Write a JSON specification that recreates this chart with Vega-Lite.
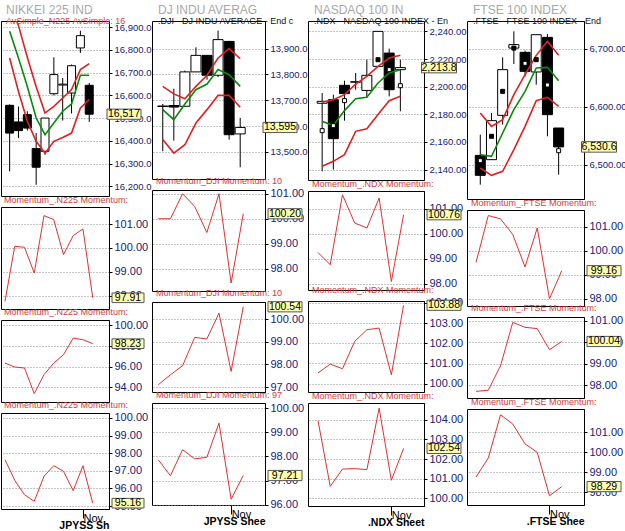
{
"$schema":"https://vega.github.io/schema/vega-lite/v6.json",
"background":"#ffffff",
"padding":{"left":0,"top":3,"right":0,"bottom":0},
"spacing":-15,
"datasets":{
"n225":[
{"i":1,"o":16556,"h":16560,"l":16266,"c":16434,"up":17005,"mid":16881,"lo":16764,"m1":97.76,"m2":96.35,"m3":97.63},
{"i":2,"o":16483,"h":16551,"l":16412,"c":16445,"up":16906,"mid":16764,"lo":16617,"m1":100.07,"m2":95.97,"m3":96.46},
{"i":3,"o":16515,"h":16530,"l":16445,"c":16456,"up":16767,"mid":16639,"lo":16486,"m1":100.03,"m2":95.87,"m3":95.64},
{"i":4,"o":16366,"h":16434,"l":16207,"c":16284,"up":16638,"mid":16500,"lo":16398,"m1":98.95,"m2":93.39,"m3":95.27},
{"i":5,"o":16354,"h":16500,"l":16339,"c":16500,"up":16522,"mid":16427,"lo":16346,"m1":101.36,"m2":95.23,"m3":96.69},
{"i":6,"o":16607,"h":16767,"l":16600,"c":16691,"up":16551,"mid":16478,"lo":16398,"m1":101.19,"m2":96.35,"m3":97.29},
{"i":7,"o":16645,"h":16676,"l":16489,"c":16649,"up":16588,"mid":16530,"lo":16415,"m1":99.72,"m2":97.16,"m3":96.97},
{"i":8,"o":16610,"h":16735,"l":16520,"c":16730,"up":16625,"mid":16562,"lo":16434,"m1":100.52,"m2":98.77,"m3":95.87},
{"i":9,"o":16808,"h":16884,"l":16786,"c":16862,"up":16713,"mid":16688,"lo":16544,"m1":100.80,"m2":98.61,"m3":97.29},
{"i":10,"o":16644,"h":16654,"l":16483,"c":16517,"up":16739,"mid":16688,"lo":16581,"m1":97.91,"m2":98.23,"m3":95.16}
],
"dji":[
{"i":1,"o":13678,"h":13686,"l":13503,"c":13676,"up":13754,"mid":13664,"lo":13548,"m1":100.0,"m2":97.10,"m3":97.86},
{"i":2,"o":13680,"h":13745,"l":13544,"c":13674,"up":13725,"mid":13625,"lo":13496,"m1":100.0,"m2":97.54,"m3":97.20},
{"i":3,"o":13677,"h":13815,"l":13677,"c":13810,"up":13706,"mid":13686,"lo":13528,"m1":101.0,"m2":97.94,"m3":98.28},
{"i":4,"o":13810,"h":13905,"l":13810,"c":13874,"up":13754,"mid":13741,"lo":13612,"m1":100.49,"m2":99.19,"m3":97.90},
{"i":5,"o":13874,"h":13874,"l":13780,"c":13797,"up":13797,"mid":13763,"lo":13664,"m1":99.45,"m2":99.12,"m3":97.96},
{"i":6,"o":13797,"h":13970,"l":13790,"c":13935,"up":13864,"mid":13819,"lo":13719,"m1":101.0,"m2":100.26,"m3":99.38},
{"i":7,"o":13928,"h":13930,"l":13548,"c":13567,"up":13900,"mid":13799,"lo":13719,"m1":97.43,"m2":97.69,"m3":96.23},
{"i":8,"o":13570,"h":13632,"l":13441,"c":13595,"up":13861,"mid":13754,"lo":13673,"m1":100.20,"m2":100.54,"m3":97.21}
],
"ndx":[
{"i":1,"o":2188.0,"h":2195.4,"l":2138.8,"c":2189.4,"mk":2168.2,"up":2188.7,"mid":2174.9,"lo":2142.4,"m1":99.25,"m2":100.53,"m3":103.95},
{"i":2,"o":2190.6,"h":2194.2,"l":2140.0,"c":2162.4,"mk":2171.8,"up":2190.6,"mid":2172.0,"lo":2146.0,"m1":98.76,"m2":100.97,"m3":100.61},
{"i":3,"o":2201.0,"h":2204.3,"l":2175.4,"c":2195.0,"mk":2189.9,"up":2194.2,"mid":2182.7,"lo":2150.8,"m1":101.56,"m2":100.74,"m3":101.49},
{"i":4,"o":2203.2,"h":2209.9,"l":2197.8,"c":2203.6,"mk":null,"up":2201.9,"mid":2191.3,"lo":2167.7,"m1":100.43,"m2":102.09,"m3":101.51},
{"i":5,"o":2197.3,"h":2219.5,"l":2192.3,"c":2208.2,"mk":null,"up":2207.5,"mid":2192.3,"lo":2169.6,"m1":100.23,"m2":102.67,"m3":101.46},
{"i":6,"o":2214.7,"h":2240.0,"l":2214.7,"c":2240.0,"mk":2219.5,"up":2214.7,"mid":2202.7,"lo":2179.8,"m1":101.43,"m2":102.75,"m3":104.59},
{"i":7,"o":2224.3,"h":2227.5,"l":2193.0,"c":2197.8,"mk":2212.3,"up":2220.7,"mid":2209.9,"lo":2189.9,"m1":98.09,"m2":100.44,"m3":100.92},
{"i":8,"o":2212.3,"h":2219.5,"l":2182.2,"c":2213.8,"mk":2200.7,"up":2222.7,"mid":2212.3,"lo":2193.0,"m1":100.76,"m2":103.88,"m3":102.54}
],
"ftse":[
{"i":1,"o":6516.0,"h":6551.7,"l":6465.5,"c":6481.6,"mk":6506.9,"up":6589.0,"mid":6517.2,"lo":6494.3,"m1":99.51,"m2":97.72,"m3":98.77},
{"i":2,"o":6508.6,"h":6589.0,"l":6508.6,"c":6575.9,"mk":6548.9,"up":6566.0,"mid":6514.4,"lo":6481.6,"m1":101.46,"m2":97.77,"m3":99.72},
{"i":3,"o":6585.0,"h":6685.0,"l":6569.0,"c":6663.8,"mk":6626.4,"up":6577.6,"mid":6554.6,"lo":6488.5,"m1":101.32,"m2":98.91,"m3":101.88},
{"i":4,"o":6701.0,"h":6729.9,"l":6673.6,"c":6707.0,"mk":6701.0,"up":6620.7,"mid":6594.8,"lo":6525.9,"m1":100.67,"m2":100.93,"m3":101.42},
{"i":5,"o":6693.7,"h":6696.6,"l":6652.3,"c":6660.9,"mk":6674.7,"up":6655.2,"mid":6626.4,"lo":6566.1,"m1":99.32,"m2":100.70,"m3":100.43},
{"i":6,"o":6659.8,"h":6724.1,"l":6637.9,"c":6724.1,"mk":6681.0,"up":6688.5,"mid":6666.7,"lo":6610.3,"m1":100.94,"m2":100.64,"m3":100.00},
{"i":7,"o":6719.5,"h":6725.3,"l":6548.9,"c":6586.2,"mk":6637.4,"up":6712.6,"mid":6667.8,"lo":6616.1,"m1":97.99,"m2":99.66,"m3":97.83},
{"i":8,"o":6563.2,"h":6563.2,"l":6482.8,"c":6530.6,"mk":6524.1,"up":6688.5,"mid":6644.8,"lo":6600.6,"m1":99.16,"m2":100.04,"m3":98.29}
]
},
"hconcat":[
{"vconcat":[
  {"width":108,"height":175,
   "title":{"text":"NIKKEI 225 IND","subtitle":"AvSimple_N225  AvSimple: 16","color":"#a8a8a8","fontSize":12,"subtitleColor":"#d83a3a","subtitleFontSize":9,"subtitleFont":"Liberation Sans","subtitlePadding":0,"dx":5,"dy":6,"offset":0},
   "data":{"name":"n225"},
   "encoding":{"x":{"field":"i","type":"quantitative","scale":{"domain":[0.59,11.67],"nice":false,"zero":false},"axis":null}},
   "layer":[
    {"data":{"values":[{}]},"mark":{"type":"rule","color":"#8a8a8a","strokeDash":[1,2]},"encoding":{"x":{"datum":9,"type":"quantitative","scale":{"domain":[0.59,11.67],"nice":false,"zero":false},"axis":null}}},
    {"mark":{"type":"rule","color":"#000"},"encoding":{"y":{"field":"l","type":"quantitative","scale":{"domain":[16157.6,16926.4],"nice":false,"zero":false},"axis":{"orient":"right","grid":true,"labelOverlap":false,"values":[16200,16300,16400,16500,16600,16700,16800,16900],"format":",.1f","labelFontSize":9.5},"title":null},"y2":{"field":"h"}}},
    {"mark":{"type":"bar","orient":"vertical","width":8,"stroke":"#000","strokeWidth":1},"encoding":{"y":{"field":"o","type":"quantitative","scale":{"domain":[16157.6,16926.4],"nice":false,"zero":false},"axis":{"orient":"right","grid":true,"labelOverlap":false,"values":[16200,16300,16400,16500,16600,16700,16800,16900],"format":",.1f","labelFontSize":9.5},"title":null},"y2":{"field":"c"},"fill":{"condition":{"test":"datum.c < datum.o","value":"#000"},"value":"#fff"}}},
    {"mark":{"type":"line","color":"#e02020","strokeWidth":1.6,"clip":true},"encoding":{"y":{"field":"up","type":"quantitative","scale":{"domain":[16157.6,16926.4],"nice":false,"zero":false},"axis":{"orient":"right","grid":true,"labelOverlap":false,"values":[16200,16300,16400,16500,16600,16700,16800,16900],"format":",.1f","labelFontSize":9.5},"title":null}}},
    {"mark":{"type":"line","color":"#0a8a0a","strokeWidth":1.6,"clip":true},"encoding":{"y":{"field":"mid","type":"quantitative","scale":{"domain":[16157.6,16926.4],"nice":false,"zero":false},"axis":{"orient":"right","grid":true,"labelOverlap":false,"values":[16200,16300,16400,16500,16600,16700,16800,16900],"format":",.1f","labelFontSize":9.5},"title":null}}},
    {"mark":{"type":"line","color":"#e02020","strokeWidth":1.6,"clip":true},"encoding":{"y":{"field":"lo","type":"quantitative","scale":{"domain":[16157.6,16926.4],"nice":false,"zero":false},"axis":{"orient":"right","grid":true,"labelOverlap":false,"values":[16200,16300,16400,16500,16600,16700,16800,16900],"format":",.1f","labelFontSize":9.5},"title":null}}},
    {"data":{"values":[{"t":"No Orders"}]},"mark":{"type":"point","shape":"M-1,-0.27H1V0.27H-1Z","size":1600,"filled":true,"fill":"#dbe9f7","stroke":"#5a7898","strokeWidth":1,"opacity":1,"xOffset":22,"yOffset":-8},"encoding":{"x":{"datum":0.59,"type":"quantitative","scale":{"domain":[0.59,11.67],"nice":false,"zero":false},"axis":null},"y":{"datum":16157.6,"type":"quantitative","scale":{"domain":[16157.6,16926.4],"nice":false,"zero":false},"axis":{"orient":"right","grid":true,"labelOverlap":false,"values":[16200,16300,16400,16500,16600,16700,16800,16900],"format":",.1f","labelFontSize":9.5},"title":null}}},
    {"data":{"values":[{"t":"No Orders"}]},"mark":{"type":"text","fontSize":10,"color":"#10104a","xOffset":22,"yOffset":-8},"encoding":{"x":{"datum":0.59,"type":"quantitative","scale":{"domain":[0.59,11.67],"nice":false,"zero":false},"axis":null},"y":{"datum":16157.6,"type":"quantitative","scale":{"domain":[16157.6,16926.4],"nice":false,"zero":false},"axis":{"orient":"right","grid":true,"labelOverlap":false,"values":[16200,16300,16400,16500,16600,16700,16800,16900],"format":",.1f","labelFontSize":9.5},"title":null},"text":{"field":"t"}}},
    {"transform":[{"filter":"datum.i == 10"}],"mark":{"type":"point","shape":"M-1,-0.3H1V0.3H-1Z","size":1156,"filled":true,"fill":"#ffffb0","stroke":"#555","strokeWidth":1,"opacity":1,"xOffset":20},"encoding":{"x":{"datum":11.67,"type":"quantitative","scale":{"domain":[0.59,11.67],"nice":false,"zero":false},"axis":null},"y":{"field":"c","type":"quantitative","scale":{"domain":[16157.6,16926.4],"nice":false,"zero":false},"axis":{"orient":"right","grid":true,"labelOverlap":false,"values":[16200,16300,16400,16500,16600,16700,16800,16900],"format":",.1f","labelFontSize":9.5},"title":null}}},
    {"transform":[{"filter":"datum.i == 10"}],"mark":{"type":"text","fontSize":10.5,"color":"#000","xOffset":20},"encoding":{"x":{"datum":11.67,"type":"quantitative","scale":{"domain":[0.59,11.67],"nice":false,"zero":false},"axis":null},"y":{"field":"c","type":"quantitative","scale":{"domain":[16157.6,16926.4],"nice":false,"zero":false},"axis":{"orient":"right","grid":true,"labelOverlap":false,"values":[16200,16300,16400,16500,16600,16700,16800,16900],"format":",.1f","labelFontSize":9.5},"title":null},"text":{"field":"c","type":"quantitative","format":",.0f"}}}
   ]},
  {"width":108,"height":102,
   "title":{"text":"Momentum_.N225  Momentum:","dx":3},
   "data":{"name":"n225"},
   "encoding":{"x":{"field":"i","type":"quantitative","scale":{"domain":[0.59,11.67],"nice":false,"zero":false},"axis":null}},
   "layer":[
    {"data":{"values":[{}]},"mark":{"type":"rule","color":"#8a8a8a","strokeDash":[1,2]},"encoding":{"x":{"datum":9,"type":"quantitative","scale":{"domain":[0.59,11.67],"nice":false,"zero":false},"axis":null}}},
    {"data":{"values":[{}]},"mark":{"type":"rule","color":"#6060e0","strokeWidth":1.3},"encoding":{"x":{"datum":1,"type":"quantitative","scale":{"domain":[0.59,11.67],"nice":false,"zero":false},"axis":null},"x2":{"datum":10},"y":{"datum":100,"type":"quantitative","scale":{"domain":[97.44,101.72],"nice":false,"zero":false},"axis":{"orient":"right","grid":true,"labelOverlap":false,"values":[98,99,100,101],"format":".2f"},"title":null}}},
    {"mark":{"type":"line","color":"#e03030","strokeWidth":1},"encoding":{"y":{"field":"m1","type":"quantitative","scale":{"domain":[97.44,101.72],"nice":false,"zero":false},"axis":{"orient":"right","grid":true,"labelOverlap":false,"values":[98,99,100,101],"format":".2f"},"title":null}}},
    {"transform":[{"filter":"datum.i == 10"}],"mark":{"type":"point","shape":"M-1,-0.3H1V0.3H-1Z","size":1024,"filled":true,"fill":"#ffffb0","stroke":"#555","strokeWidth":1,"opacity":1,"xOffset":19},"encoding":{"x":{"datum":11.67,"type":"quantitative","scale":{"domain":[0.59,11.67],"nice":false,"zero":false},"axis":null},"y":{"field":"m1","type":"quantitative","scale":{"domain":[97.44,101.72],"nice":false,"zero":false},"axis":{"orient":"right","grid":true,"labelOverlap":false,"values":[98,99,100,101],"format":".2f"},"title":null}}},
    {"transform":[{"filter":"datum.i == 10"}],"mark":{"type":"text","fontSize":10.5,"color":"#000","xOffset":19},"encoding":{"x":{"datum":11.67,"type":"quantitative","scale":{"domain":[0.59,11.67],"nice":false,"zero":false},"axis":null},"y":{"field":"m1","type":"quantitative","scale":{"domain":[97.44,101.72],"nice":false,"zero":false},"axis":{"orient":"right","grid":true,"labelOverlap":false,"values":[98,99,100,101],"format":".2f"},"title":null},"text":{"field":"m1","type":"quantitative","format":".2f"}}}
   ]},
  {"width":108,"height":82,
   "title":{"text":"Momentum_.N225  Momentum:","dx":3},
   "data":{"name":"n225"},
   "encoding":{"x":{"field":"i","type":"quantitative","scale":{"domain":[0.59,11.67],"nice":false,"zero":false},"axis":null}},
   "layer":[
    {"data":{"values":[{}]},"mark":{"type":"rule","color":"#8a8a8a","strokeDash":[1,2]},"encoding":{"x":{"datum":9,"type":"quantitative","scale":{"domain":[0.59,11.67],"nice":false,"zero":false},"axis":null}}},
    {"data":{"values":[{}]},"mark":{"type":"rule","color":"#1a1a9a","strokeWidth":1.3},"encoding":{"x":{"datum":1,"type":"quantitative","scale":{"domain":[0.59,11.67],"nice":false,"zero":false},"axis":null},"x2":{"datum":10},"y":{"datum":100,"type":"quantitative","scale":{"domain":[92.58,100.52],"nice":false,"zero":false},"axis":{"orient":"right","grid":true,"labelOverlap":false,"values":[94,96,98,100],"format":".2f"},"title":null}}},
    {"mark":{"type":"line","color":"#e03030","strokeWidth":1},"encoding":{"y":{"field":"m2","type":"quantitative","scale":{"domain":[92.58,100.52],"nice":false,"zero":false},"axis":{"orient":"right","grid":true,"labelOverlap":false,"values":[94,96,98,100],"format":".2f"},"title":null}}},
    {"transform":[{"filter":"datum.i == 10"}],"mark":{"type":"point","shape":"M-1,-0.3H1V0.3H-1Z","size":1024,"filled":true,"fill":"#ffffb0","stroke":"#555","strokeWidth":1,"opacity":1,"xOffset":19},"encoding":{"x":{"datum":11.67,"type":"quantitative","scale":{"domain":[0.59,11.67],"nice":false,"zero":false},"axis":null},"y":{"field":"m2","type":"quantitative","scale":{"domain":[92.58,100.52],"nice":false,"zero":false},"axis":{"orient":"right","grid":true,"labelOverlap":false,"values":[94,96,98,100],"format":".2f"},"title":null}}},
    {"transform":[{"filter":"datum.i == 10"}],"mark":{"type":"text","fontSize":10.5,"color":"#000","xOffset":19},"encoding":{"x":{"datum":11.67,"type":"quantitative","scale":{"domain":[0.59,11.67],"nice":false,"zero":false},"axis":null},"y":{"field":"m2","type":"quantitative","scale":{"domain":[92.58,100.52],"nice":false,"zero":false},"axis":{"orient":"right","grid":true,"labelOverlap":false,"values":[94,96,98,100],"format":".2f"},"title":null},"text":{"field":"m2","type":"quantitative","format":".2f"}}}
   ]},
  {"width":108,"height":96,
   "title":{"text":"Momentum_.N225  Momentum:","dx":3},
   "data":{"name":"n225"},
   "encoding":{"x":{"field":"i","type":"quantitative","scale":{"domain":[0.59,11.67],"nice":false,"zero":false},"axis":{"orient":"bottom","values":[9],"labelExpr":"'Nov'","grid":false,"domain":false,"tickSize":9,"tickColor":"#000","labelAlign":"left","labelBaseline":"top","labelPadding":-6,"labelDx":1,"labelColor":"#000","labelFontSize":11,"title":"JPYSS   Sh","titleAnchor":"end","titleFontSize":10.5,"titleFontWeight":"bold","titleColor":"#000","titlePadding":-3}}},
   "layer":[
    {"data":{"values":[{}]},"mark":{"type":"rule","color":"#8a8a8a","strokeDash":[1,2]},"encoding":{"x":{"datum":9,"type":"quantitative","scale":{"domain":[0.59,11.67],"nice":false,"zero":false},"axis":{"orient":"bottom","values":[9],"labelExpr":"'Nov'","grid":false,"domain":false,"tickSize":9,"tickColor":"#000","labelAlign":"left","labelBaseline":"top","labelPadding":-6,"labelDx":1,"labelColor":"#000","labelFontSize":11,"title":"JPYSS   Sh","titleAnchor":"end","titleFontSize":10.5,"titleFontWeight":"bold","titleColor":"#000","titlePadding":-3}}}},
    {"data":{"values":[{}]},"mark":{"type":"rule","color":"#6060e0","strokeWidth":1.3},"encoding":{"x":{"datum":1,"type":"quantitative","scale":{"domain":[0.59,11.67],"nice":false,"zero":false},"axis":{"orient":"bottom","values":[9],"labelExpr":"'Nov'","grid":false,"domain":false,"tickSize":9,"tickColor":"#000","labelAlign":"left","labelBaseline":"top","labelPadding":-6,"labelDx":1,"labelColor":"#000","labelFontSize":11,"title":"JPYSS   Sh","titleAnchor":"end","titleFontSize":10.5,"titleFontWeight":"bold","titleColor":"#000","titlePadding":-3}},"x2":{"datum":10},"y":{"datum":100,"type":"quantitative","scale":{"domain":[94.83,100.28],"nice":false,"zero":false},"axis":{"orient":"right","grid":true,"labelOverlap":false,"values":[95,96,97,98,99,100],"format":".2f"},"title":null}}},
    {"mark":{"type":"line","color":"#e03030","strokeWidth":1},"encoding":{"y":{"field":"m3","type":"quantitative","scale":{"domain":[94.83,100.28],"nice":false,"zero":false},"axis":{"orient":"right","grid":true,"labelOverlap":false,"values":[95,96,97,98,99,100],"format":".2f"},"title":null}}},
    {"transform":[{"filter":"datum.i == 10"}],"mark":{"type":"point","shape":"M-1,-0.3H1V0.3H-1Z","size":1024,"filled":true,"fill":"#ffffb0","stroke":"#555","strokeWidth":1,"opacity":1,"xOffset":19},"encoding":{"x":{"datum":11.67,"type":"quantitative","scale":{"domain":[0.59,11.67],"nice":false,"zero":false},"axis":{"orient":"bottom","values":[9],"labelExpr":"'Nov'","grid":false,"domain":false,"tickSize":9,"tickColor":"#000","labelAlign":"left","labelBaseline":"top","labelPadding":-6,"labelDx":1,"labelColor":"#000","labelFontSize":11,"title":"JPYSS   Sh","titleAnchor":"end","titleFontSize":10.5,"titleFontWeight":"bold","titleColor":"#000","titlePadding":-3}},"y":{"field":"m3","type":"quantitative","scale":{"domain":[94.83,100.28],"nice":false,"zero":false},"axis":{"orient":"right","grid":true,"labelOverlap":false,"values":[95,96,97,98,99,100],"format":".2f"},"title":null}}},
    {"transform":[{"filter":"datum.i == 10"}],"mark":{"type":"text","fontSize":10.5,"color":"#000","xOffset":19},"encoding":{"x":{"datum":11.67,"type":"quantitative","scale":{"domain":[0.59,11.67],"nice":false,"zero":false},"axis":{"orient":"bottom","values":[9],"labelExpr":"'Nov'","grid":false,"domain":false,"tickSize":9,"tickColor":"#000","labelAlign":"left","labelBaseline":"top","labelPadding":-6,"labelDx":1,"labelColor":"#000","labelFontSize":11,"title":"JPYSS   Sh","titleAnchor":"end","titleFontSize":10.5,"titleFontWeight":"bold","titleColor":"#000","titlePadding":-3}},"y":{"field":"m3","type":"quantitative","scale":{"domain":[94.83,100.28],"nice":false,"zero":false},"axis":{"orient":"right","grid":true,"labelOverlap":false,"values":[95,96,97,98,99,100],"format":".2f"},"title":null},"text":{"field":"m3","type":"quantitative","format":".2f"}}}
   ]}
 ],"bounds":"flush","spacing":11},
{"vconcat":[
  {"width":113,"height":158,
   "title":{"text":"DJ INDU AVERAG","subtitle":".DJI - DJ INDU AVERAGE - End c","color":"#a8a8a8","fontSize":12,"subtitleColor":"#111111","subtitleFontSize":9,"subtitleFont":"Liberation Sans","subtitlePadding":0,"dx":6,"dy":6,"offset":0},
   "data":{"name":"dji"},
   "encoding":{"x":{"field":"i","type":"quantitative","scale":{"domain":[0.48,9.79],"nice":false,"zero":false},"axis":null}},
   "layer":[
    {"data":{"values":[{}]},"mark":{"type":"rule","color":"#8a8a8a","strokeDash":[1,2]},"encoding":{"x":{"datum":7,"type":"quantitative","scale":{"domain":[0.48,9.79],"nice":false,"zero":false},"axis":null}}},
    {"mark":{"type":"rule","color":"#000"},"encoding":{"y":{"field":"l","type":"quantitative","scale":{"domain":[13395.5,14007],"nice":false,"zero":false},"axis":{"orient":"right","grid":true,"labelOverlap":false,"values":[13500,13600,13700,13800,13900],"format":",.1f","labelFontSize":9.5},"title":null},"y2":{"field":"h"}}},
    {"mark":{"type":"bar","orient":"vertical","width":10,"stroke":"#000","strokeWidth":1},"encoding":{"y":{"field":"o","type":"quantitative","scale":{"domain":[13395.5,14007],"nice":false,"zero":false},"axis":{"orient":"right","grid":true,"labelOverlap":false,"values":[13500,13600,13700,13800,13900],"format":",.1f","labelFontSize":9.5},"title":null},"y2":{"field":"c"},"fill":{"condition":{"test":"datum.c < datum.o","value":"#000"},"value":"#fff"}}},
    {"mark":{"type":"line","color":"#e02020","strokeWidth":1.6,"clip":true},"encoding":{"y":{"field":"up","type":"quantitative","scale":{"domain":[13395.5,14007],"nice":false,"zero":false},"axis":{"orient":"right","grid":true,"labelOverlap":false,"values":[13500,13600,13700,13800,13900],"format":",.1f","labelFontSize":9.5},"title":null}}},
    {"mark":{"type":"line","color":"#0a8a0a","strokeWidth":1.6,"clip":true},"encoding":{"y":{"field":"mid","type":"quantitative","scale":{"domain":[13395.5,14007],"nice":false,"zero":false},"axis":{"orient":"right","grid":true,"labelOverlap":false,"values":[13500,13600,13700,13800,13900],"format":",.1f","labelFontSize":9.5},"title":null}}},
    {"mark":{"type":"line","color":"#e02020","strokeWidth":1.6,"clip":true},"encoding":{"y":{"field":"lo","type":"quantitative","scale":{"domain":[13395.5,14007],"nice":false,"zero":false},"axis":{"orient":"right","grid":true,"labelOverlap":false,"values":[13500,13600,13700,13800,13900],"format":",.1f","labelFontSize":9.5},"title":null}}},
    {"data":{"values":[{"t":"No Orders"}]},"mark":{"type":"point","shape":"M-1,-0.27H1V0.27H-1Z","size":1521,"filled":true,"fill":"#dbe9f7","stroke":"#5a7898","strokeWidth":1,"opacity":1,"xOffset":22,"yOffset":-11},"encoding":{"x":{"datum":0.48,"type":"quantitative","scale":{"domain":[0.48,9.79],"nice":false,"zero":false},"axis":null},"y":{"datum":13395.5,"type":"quantitative","scale":{"domain":[13395.5,14007],"nice":false,"zero":false},"axis":{"orient":"right","grid":true,"labelOverlap":false,"values":[13500,13600,13700,13800,13900],"format":",.1f","labelFontSize":9.5},"title":null}}},
    {"data":{"values":[{"t":"No Orders"}]},"mark":{"type":"text","fontSize":10,"color":"#10104a","xOffset":22,"yOffset":-11},"encoding":{"x":{"datum":0.48,"type":"quantitative","scale":{"domain":[0.48,9.79],"nice":false,"zero":false},"axis":null},"y":{"datum":13395.5,"type":"quantitative","scale":{"domain":[13395.5,14007],"nice":false,"zero":false},"axis":{"orient":"right","grid":true,"labelOverlap":false,"values":[13500,13600,13700,13800,13900],"format":",.1f","labelFontSize":9.5},"title":null},"text":{"field":"t"}}},
    {"transform":[{"filter":"datum.i == 8"}],"mark":{"type":"point","shape":"M-1,-0.3H1V0.3H-1Z","size":1156,"filled":true,"fill":"#ffffb0","stroke":"#555","strokeWidth":1,"opacity":1,"xOffset":20},"encoding":{"x":{"datum":9.79,"type":"quantitative","scale":{"domain":[0.48,9.79],"nice":false,"zero":false},"axis":null},"y":{"field":"c","type":"quantitative","scale":{"domain":[13395.5,14007],"nice":false,"zero":false},"axis":{"orient":"right","grid":true,"labelOverlap":false,"values":[13500,13600,13700,13800,13900],"format":",.1f","labelFontSize":9.5},"title":null}}},
    {"transform":[{"filter":"datum.i == 8"}],"mark":{"type":"text","fontSize":10.5,"color":"#000","xOffset":20},"encoding":{"x":{"datum":9.79,"type":"quantitative","scale":{"domain":[0.48,9.79],"nice":false,"zero":false},"axis":null},"y":{"field":"c","type":"quantitative","scale":{"domain":[13395.5,14007],"nice":false,"zero":false},"axis":{"orient":"right","grid":true,"labelOverlap":false,"values":[13500,13600,13700,13800,13900],"format":",.1f","labelFontSize":9.5},"title":null},"text":{"field":"c","type":"quantitative","format":",.0f"}}}
   ]},
  {"width":113,"height":101,
   "title":{"text":"Momentum_DJI  Momentum: 10","dx":4},
   "data":{"name":"dji"},
   "encoding":{"x":{"field":"i","type":"quantitative","scale":{"domain":[0.48,9.79],"nice":false,"zero":false},"axis":null}},
   "layer":[
    {"data":{"values":[{}]},"mark":{"type":"rule","color":"#8a8a8a","strokeDash":[1,2]},"encoding":{"x":{"datum":7,"type":"quantitative","scale":{"domain":[0.48,9.79],"nice":false,"zero":false},"axis":null}}},
    {"data":{"values":[{}]},"mark":{"type":"rule","color":"#1a1a9a","strokeWidth":1.3},"encoding":{"x":{"datum":1,"type":"quantitative","scale":{"domain":[0.48,9.79],"nice":false,"zero":false},"axis":null},"x2":{"datum":8},"y":{"datum":100,"type":"quantitative","scale":{"domain":[97.11,101.15],"nice":false,"zero":false},"axis":{"orient":"right","grid":true,"labelOverlap":false,"values":[98,99,100,101],"format":".2f"},"title":null}}},
    {"mark":{"type":"line","color":"#e03030","strokeWidth":1},"encoding":{"y":{"field":"m1","type":"quantitative","scale":{"domain":[97.11,101.15],"nice":false,"zero":false},"axis":{"orient":"right","grid":true,"labelOverlap":false,"values":[98,99,100,101],"format":".2f"},"title":null}}},
    {"transform":[{"filter":"datum.i == 8"}],"mark":{"type":"point","shape":"M-1,-0.3H1V0.3H-1Z","size":1156,"filled":true,"fill":"#ffffb0","stroke":"#555","strokeWidth":1,"opacity":1,"xOffset":20},"encoding":{"x":{"datum":9.79,"type":"quantitative","scale":{"domain":[0.48,9.79],"nice":false,"zero":false},"axis":null},"y":{"field":"m1","type":"quantitative","scale":{"domain":[97.11,101.15],"nice":false,"zero":false},"axis":{"orient":"right","grid":true,"labelOverlap":false,"values":[98,99,100,101],"format":".2f"},"title":null}}},
    {"transform":[{"filter":"datum.i == 8"}],"mark":{"type":"text","fontSize":10.5,"color":"#000","xOffset":20},"encoding":{"x":{"datum":9.79,"type":"quantitative","scale":{"domain":[0.48,9.79],"nice":false,"zero":false},"axis":null},"y":{"field":"m1","type":"quantitative","scale":{"domain":[97.11,101.15],"nice":false,"zero":false},"axis":{"orient":"right","grid":true,"labelOverlap":false,"values":[98,99,100,101],"format":".2f"},"title":null},"text":{"field":"m1","type":"quantitative","format":".2f"}}}
   ]},
  {"width":113,"height":90,
   "title":{"text":"Momentum_DJI  Momentum: 10","dx":4},
   "data":{"name":"dji"},
   "encoding":{"x":{"field":"i","type":"quantitative","scale":{"domain":[0.48,9.79],"nice":false,"zero":false},"axis":null}},
   "layer":[
    {"data":{"values":[{}]},"mark":{"type":"rule","color":"#8a8a8a","strokeDash":[1,2]},"encoding":{"x":{"datum":7,"type":"quantitative","scale":{"domain":[0.48,9.79],"nice":false,"zero":false},"axis":null}}},
    {"data":{"values":[{}]},"mark":{"type":"rule","color":"#6a6af0","strokeWidth":1.3},"encoding":{"x":{"datum":1,"type":"quantitative","scale":{"domain":[0.48,9.79],"nice":false,"zero":false},"axis":null},"x2":{"datum":8},"y":{"datum":100,"type":"quantitative","scale":{"domain":[96.78,100.75],"nice":false,"zero":false},"axis":{"orient":"right","grid":true,"labelOverlap":false,"values":[97,98,99,100],"format":".2f"},"title":null}}},
    {"mark":{"type":"line","color":"#e03030","strokeWidth":1},"encoding":{"y":{"field":"m2","type":"quantitative","scale":{"domain":[96.78,100.75],"nice":false,"zero":false},"axis":{"orient":"right","grid":true,"labelOverlap":false,"values":[97,98,99,100],"format":".2f"},"title":null}}},
    {"transform":[{"filter":"datum.i == 8"}],"mark":{"type":"point","shape":"M-1,-0.3H1V0.3H-1Z","size":1156,"filled":true,"fill":"#ffffb0","stroke":"#555","strokeWidth":1,"opacity":1,"xOffset":20},"encoding":{"x":{"datum":9.79,"type":"quantitative","scale":{"domain":[0.48,9.79],"nice":false,"zero":false},"axis":null},"y":{"field":"m2","type":"quantitative","scale":{"domain":[96.78,100.75],"nice":false,"zero":false},"axis":{"orient":"right","grid":true,"labelOverlap":false,"values":[97,98,99,100],"format":".2f"},"title":null}}},
    {"transform":[{"filter":"datum.i == 8"}],"mark":{"type":"text","fontSize":10.5,"color":"#000","xOffset":20},"encoding":{"x":{"datum":9.79,"type":"quantitative","scale":{"domain":[0.48,9.79],"nice":false,"zero":false},"axis":null},"y":{"field":"m2","type":"quantitative","scale":{"domain":[96.78,100.75],"nice":false,"zero":false},"axis":{"orient":"right","grid":true,"labelOverlap":false,"values":[97,98,99,100],"format":".2f"},"title":null},"text":{"field":"m2","type":"quantitative","format":".2f"}}}
   ]},
  {"width":113,"height":102,
   "title":{"text":"Momentum_DJI  Momentum: 97","dx":4},
   "data":{"name":"dji"},
   "encoding":{"x":{"field":"i","type":"quantitative","scale":{"domain":[0.48,9.79],"nice":false,"zero":false},"axis":{"orient":"bottom","values":[7],"labelExpr":"'Nov'","grid":false,"domain":false,"tickSize":9,"tickColor":"#000","labelAlign":"left","labelBaseline":"top","labelPadding":-6,"labelDx":1,"labelColor":"#000","labelFontSize":11,"title":"JPYSS   Shee","titleAnchor":"end","titleFontSize":10.5,"titleFontWeight":"bold","titleColor":"#000","titlePadding":-3}}},
   "layer":[
    {"data":{"values":[{}]},"mark":{"type":"rule","color":"#8a8a8a","strokeDash":[1,2]},"encoding":{"x":{"datum":7,"type":"quantitative","scale":{"domain":[0.48,9.79],"nice":false,"zero":false},"axis":{"orient":"bottom","values":[7],"labelExpr":"'Nov'","grid":false,"domain":false,"tickSize":9,"tickColor":"#000","labelAlign":"left","labelBaseline":"top","labelPadding":-6,"labelDx":1,"labelColor":"#000","labelFontSize":11,"title":"JPYSS   Shee","titleAnchor":"end","titleFontSize":10.5,"titleFontWeight":"bold","titleColor":"#000","titlePadding":-3}}}},
    {"data":{"values":[{}]},"mark":{"type":"rule","color":"#6a6af0","strokeWidth":1.3},"encoding":{"x":{"datum":1,"type":"quantitative","scale":{"domain":[0.48,9.79],"nice":false,"zero":false},"axis":{"orient":"bottom","values":[7],"labelExpr":"'Nov'","grid":false,"domain":false,"tickSize":9,"tickColor":"#000","labelAlign":"left","labelBaseline":"top","labelPadding":-6,"labelDx":1,"labelColor":"#000","labelFontSize":11,"title":"JPYSS   Shee","titleAnchor":"end","titleFontSize":10.5,"titleFontWeight":"bold","titleColor":"#000","titlePadding":-3}},"x2":{"datum":8},"y":{"datum":100,"type":"quantitative","scale":{"domain":[95.99,100.21],"nice":false,"zero":false},"axis":{"orient":"right","grid":true,"labelOverlap":false,"values":[96,97,98,99,100],"format":".2f"},"title":null}}},
    {"mark":{"type":"line","color":"#e03030","strokeWidth":1},"encoding":{"y":{"field":"m3","type":"quantitative","scale":{"domain":[95.99,100.21],"nice":false,"zero":false},"axis":{"orient":"right","grid":true,"labelOverlap":false,"values":[96,97,98,99,100],"format":".2f"},"title":null}}},
    {"transform":[{"filter":"datum.i == 8"}],"mark":{"type":"point","shape":"M-1,-0.3H1V0.3H-1Z","size":1156,"filled":true,"fill":"#ffffb0","stroke":"#555","strokeWidth":1,"opacity":1,"xOffset":20},"encoding":{"x":{"datum":9.79,"type":"quantitative","scale":{"domain":[0.48,9.79],"nice":false,"zero":false},"axis":{"orient":"bottom","values":[7],"labelExpr":"'Nov'","grid":false,"domain":false,"tickSize":9,"tickColor":"#000","labelAlign":"left","labelBaseline":"top","labelPadding":-6,"labelDx":1,"labelColor":"#000","labelFontSize":11,"title":"JPYSS   Shee","titleAnchor":"end","titleFontSize":10.5,"titleFontWeight":"bold","titleColor":"#000","titlePadding":-3}},"y":{"field":"m3","type":"quantitative","scale":{"domain":[95.99,100.21],"nice":false,"zero":false},"axis":{"orient":"right","grid":true,"labelOverlap":false,"values":[96,97,98,99,100],"format":".2f"},"title":null}}},
    {"transform":[{"filter":"datum.i == 8"}],"mark":{"type":"text","fontSize":10.5,"color":"#000","xOffset":20},"encoding":{"x":{"datum":9.79,"type":"quantitative","scale":{"domain":[0.48,9.79],"nice":false,"zero":false},"axis":{"orient":"bottom","values":[7],"labelExpr":"'Nov'","grid":false,"domain":false,"tickSize":9,"tickColor":"#000","labelAlign":"left","labelBaseline":"top","labelPadding":-6,"labelDx":1,"labelColor":"#000","labelFontSize":11,"title":"JPYSS   Shee","titleAnchor":"end","titleFontSize":10.5,"titleFontWeight":"bold","titleColor":"#000","titlePadding":-3}},"y":{"field":"m3","type":"quantitative","scale":{"domain":[95.99,100.21],"nice":false,"zero":false},"axis":{"orient":"right","grid":true,"labelOverlap":false,"values":[96,97,98,99,100],"format":".2f"},"title":null},"text":{"field":"m3","type":"quantitative","format":".2f"}}}
   ]}
 ],"bounds":"flush","spacing":11},
{"vconcat":[
  {"width":116,"height":159,
   "title":{"text":"NASDAQ 100 IN","subtitle":".NDX - NASDAQ 100 INDEX - En","color":"#a8a8a8","fontSize":12,"subtitleColor":"#111111","subtitleFontSize":9,"subtitleFont":"Liberation Sans","subtitlePadding":0,"dx":6,"dy":6,"offset":0},
   "data":{"name":"ndx"},
   "encoding":{"x":{"field":"i","type":"quantitative","scale":{"domain":[0.18,9.67],"nice":false,"zero":false},"axis":null}},
   "layer":[
    {"data":{"values":[{}]},"mark":{"type":"rule","color":"#8a8a8a","strokeDash":[1,2]},"encoding":{"x":{"datum":7,"type":"quantitative","scale":{"domain":[0.18,9.67],"nice":false,"zero":false},"axis":null}}},
    {"mark":{"type":"rule","color":"#000"},"encoding":{"y":{"field":"l","type":"quantitative","scale":{"domain":[2132.5,2247.5],"nice":false,"zero":false},"axis":{"orient":"right","grid":true,"labelOverlap":false,"values":[2140,2160,2180,2200,2220,2240],"format":",.2f","labelFontSize":9.5},"title":null},"y2":{"field":"h"}}},
    {"mark":{"type":"bar","orient":"vertical","width":10,"stroke":"#000","strokeWidth":1},"encoding":{"y":{"field":"o","type":"quantitative","scale":{"domain":[2132.5,2247.5],"nice":false,"zero":false},"axis":{"orient":"right","grid":true,"labelOverlap":false,"values":[2140,2160,2180,2200,2220,2240],"format":",.2f","labelFontSize":9.5},"title":null},"y2":{"field":"c"},"fill":{"condition":{"test":"datum.c < datum.o","value":"#000"},"value":"#fff"}}},
    {"mark":{"type":"line","color":"#e02020","strokeWidth":1.6,"clip":true},"encoding":{"y":{"field":"up","type":"quantitative","scale":{"domain":[2132.5,2247.5],"nice":false,"zero":false},"axis":{"orient":"right","grid":true,"labelOverlap":false,"values":[2140,2160,2180,2200,2220,2240],"format":",.2f","labelFontSize":9.5},"title":null}}},
    {"mark":{"type":"line","color":"#0a8a0a","strokeWidth":1.6,"clip":true},"encoding":{"y":{"field":"mid","type":"quantitative","scale":{"domain":[2132.5,2247.5],"nice":false,"zero":false},"axis":{"orient":"right","grid":true,"labelOverlap":false,"values":[2140,2160,2180,2200,2220,2240],"format":",.2f","labelFontSize":9.5},"title":null}}},
    {"mark":{"type":"line","color":"#e02020","strokeWidth":1.6,"clip":true},"encoding":{"y":{"field":"lo","type":"quantitative","scale":{"domain":[2132.5,2247.5],"nice":false,"zero":false},"axis":{"orient":"right","grid":true,"labelOverlap":false,"values":[2140,2160,2180,2200,2220,2240],"format":",.2f","labelFontSize":9.5},"title":null}}},
    {"mark":{"type":"point","shape":"square","size":16,"filled":true,"stroke":"#000","strokeWidth":1,"opacity":1},"encoding":{"y":{"field":"mk","type":"quantitative","scale":{"domain":[2132.5,2247.5],"nice":false,"zero":false},"axis":{"orient":"right","grid":true,"labelOverlap":false,"values":[2140,2160,2180,2200,2220,2240],"format":",.2f","labelFontSize":9.5},"title":null},"fill":{"condition":{"test":"datum.c < datum.o || datum.mk < min(datum.o, datum.c) || datum.mk > max(datum.o, datum.c)","value":"#fff"},"value":"#000"}}},
    {"data":{"values":[{"t":"No Orders"}]},"mark":{"type":"point","shape":"M-1,-0.27H1V0.27H-1Z","size":1444,"filled":true,"fill":"#dbe9f7","stroke":"#5a7898","strokeWidth":1,"opacity":1,"xOffset":27,"yOffset":-11},"encoding":{"x":{"datum":0.18,"type":"quantitative","scale":{"domain":[0.18,9.67],"nice":false,"zero":false},"axis":null},"y":{"datum":2132.5,"type":"quantitative","scale":{"domain":[2132.5,2247.5],"nice":false,"zero":false},"axis":{"orient":"right","grid":true,"labelOverlap":false,"values":[2140,2160,2180,2200,2220,2240],"format":",.2f","labelFontSize":9.5},"title":null}}},
    {"data":{"values":[{"t":"No Orders"}]},"mark":{"type":"text","fontSize":10,"color":"#10104a","xOffset":27,"yOffset":-11},"encoding":{"x":{"datum":0.18,"type":"quantitative","scale":{"domain":[0.18,9.67],"nice":false,"zero":false},"axis":null},"y":{"datum":2132.5,"type":"quantitative","scale":{"domain":[2132.5,2247.5],"nice":false,"zero":false},"axis":{"orient":"right","grid":true,"labelOverlap":false,"values":[2140,2160,2180,2200,2220,2240],"format":",.2f","labelFontSize":9.5},"title":null},"text":{"field":"t"}}},
    {"transform":[{"filter":"datum.i == 8"}],"mark":{"type":"point","shape":"M-1,-0.3H1V0.3H-1Z","size":1225,"filled":true,"fill":"#ffffb0","stroke":"#555","strokeWidth":1,"opacity":1,"xOffset":20},"encoding":{"x":{"datum":9.67,"type":"quantitative","scale":{"domain":[0.18,9.67],"nice":false,"zero":false},"axis":null},"y":{"field":"c","type":"quantitative","scale":{"domain":[2132.5,2247.5],"nice":false,"zero":false},"axis":{"orient":"right","grid":true,"labelOverlap":false,"values":[2140,2160,2180,2200,2220,2240],"format":",.2f","labelFontSize":9.5},"title":null}}},
    {"transform":[{"filter":"datum.i == 8"}],"mark":{"type":"text","fontSize":10.5,"color":"#000","xOffset":20},"encoding":{"x":{"datum":9.67,"type":"quantitative","scale":{"domain":[0.18,9.67],"nice":false,"zero":false},"axis":null},"y":{"field":"c","type":"quantitative","scale":{"domain":[2132.5,2247.5],"nice":false,"zero":false},"axis":{"orient":"right","grid":true,"labelOverlap":false,"values":[2140,2160,2180,2200,2220,2240],"format":",.2f","labelFontSize":9.5},"title":null},"text":{"field":"c","type":"quantitative","format":",.1f"}}}
   ]},
  {"width":116,"height":99,
   "title":{"text":"Momentum_.NDX  Momentum:","dx":4},
   "data":{"name":"ndx"},
   "encoding":{"x":{"field":"i","type":"quantitative","scale":{"domain":[0.18,9.67],"nice":false,"zero":false},"axis":null}},
   "layer":[
    {"data":{"values":[{}]},"mark":{"type":"rule","color":"#8a8a8a","strokeDash":[1,2]},"encoding":{"x":{"datum":7,"type":"quantitative","scale":{"domain":[0.18,9.67],"nice":false,"zero":false},"axis":null}}},
    {"data":{"values":[{}]},"mark":{"type":"rule","color":"#1a1aa0","strokeWidth":1.3},"encoding":{"x":{"datum":1,"type":"quantitative","scale":{"domain":[0.18,9.67],"nice":false,"zero":false},"axis":null},"x2":{"datum":8},"y":{"datum":100,"type":"quantitative","scale":{"domain":[97.75,101.71],"nice":false,"zero":false},"axis":{"orient":"right","grid":true,"labelOverlap":false,"values":[98,99,100,101],"format":".2f"},"title":null}}},
    {"mark":{"type":"line","color":"#e03030","strokeWidth":1},"encoding":{"y":{"field":"m1","type":"quantitative","scale":{"domain":[97.75,101.71],"nice":false,"zero":false},"axis":{"orient":"right","grid":true,"labelOverlap":false,"values":[98,99,100,101],"format":".2f"},"title":null}}},
    {"transform":[{"filter":"datum.i == 8"}],"mark":{"type":"point","shape":"M-1,-0.3H1V0.3H-1Z","size":1156,"filled":true,"fill":"#ffffb0","stroke":"#555","strokeWidth":1,"opacity":1,"xOffset":20},"encoding":{"x":{"datum":9.67,"type":"quantitative","scale":{"domain":[0.18,9.67],"nice":false,"zero":false},"axis":null},"y":{"field":"m1","type":"quantitative","scale":{"domain":[97.75,101.71],"nice":false,"zero":false},"axis":{"orient":"right","grid":true,"labelOverlap":false,"values":[98,99,100,101],"format":".2f"},"title":null}}},
    {"transform":[{"filter":"datum.i == 8"}],"mark":{"type":"text","fontSize":10.5,"color":"#000","xOffset":20},"encoding":{"x":{"datum":9.67,"type":"quantitative","scale":{"domain":[0.18,9.67],"nice":false,"zero":false},"axis":null},"y":{"field":"m1","type":"quantitative","scale":{"domain":[97.75,101.71],"nice":false,"zero":false},"axis":{"orient":"right","grid":true,"labelOverlap":false,"values":[98,99,100,101],"format":".2f"},"title":null},"text":{"field":"m1","type":"quantitative","format":".2f"}}}
   ]},
  {"width":116,"height":91,
   "title":{"text":"Momentum_.NDX  Momentum:","dx":4},
   "data":{"name":"ndx"},
   "encoding":{"x":{"field":"i","type":"quantitative","scale":{"domain":[0.18,9.67],"nice":false,"zero":false},"axis":null}},
   "layer":[
    {"data":{"values":[{}]},"mark":{"type":"rule","color":"#8a8a8a","strokeDash":[1,2]},"encoding":{"x":{"datum":7,"type":"quantitative","scale":{"domain":[0.18,9.67],"nice":false,"zero":false},"axis":null}}},
    {"data":{"values":[{}]},"mark":{"type":"rule","color":"#1a1aa0","strokeWidth":1.3},"encoding":{"x":{"datum":1,"type":"quantitative","scale":{"domain":[0.18,9.67],"nice":false,"zero":false},"axis":null},"x2":{"datum":8},"y":{"datum":100,"type":"quantitative","scale":{"domain":[99.59,104.09],"nice":false,"zero":false},"axis":{"orient":"right","grid":true,"labelOverlap":false,"values":[100,101,102,103,104],"format":".2f"},"title":null}}},
    {"mark":{"type":"line","color":"#e03030","strokeWidth":1},"encoding":{"y":{"field":"m2","type":"quantitative","scale":{"domain":[99.59,104.09],"nice":false,"zero":false},"axis":{"orient":"right","grid":true,"labelOverlap":false,"values":[100,101,102,103,104],"format":".2f"},"title":null}}},
    {"transform":[{"filter":"datum.i == 8"}],"mark":{"type":"point","shape":"M-1,-0.3H1V0.3H-1Z","size":1156,"filled":true,"fill":"#ffffb0","stroke":"#555","strokeWidth":1,"opacity":1,"xOffset":20},"encoding":{"x":{"datum":9.67,"type":"quantitative","scale":{"domain":[0.18,9.67],"nice":false,"zero":false},"axis":null},"y":{"field":"m2","type":"quantitative","scale":{"domain":[99.59,104.09],"nice":false,"zero":false},"axis":{"orient":"right","grid":true,"labelOverlap":false,"values":[100,101,102,103,104],"format":".2f"},"title":null}}},
    {"transform":[{"filter":"datum.i == 8"}],"mark":{"type":"text","fontSize":10.5,"color":"#000","xOffset":20},"encoding":{"x":{"datum":9.67,"type":"quantitative","scale":{"domain":[0.18,9.67],"nice":false,"zero":false},"axis":null},"y":{"field":"m2","type":"quantitative","scale":{"domain":[99.59,104.09],"nice":false,"zero":false},"axis":{"orient":"right","grid":true,"labelOverlap":false,"values":[100,101,102,103,104],"format":".2f"},"title":null},"text":{"field":"m2","type":"quantitative","format":".2f"}}}
   ]},
  {"width":116,"height":103,
   "title":{"text":"Momentum_.NDX  Momentum:","dx":4},
   "data":{"name":"ndx"},
   "encoding":{"x":{"field":"i","type":"quantitative","scale":{"domain":[0.18,9.67],"nice":false,"zero":false},"axis":{"orient":"bottom","values":[7],"labelExpr":"'Nov'","grid":false,"domain":false,"tickSize":9,"tickColor":"#000","labelAlign":"left","labelBaseline":"top","labelPadding":-6,"labelDx":1,"labelColor":"#000","labelFontSize":11,"title":".NDX   Sheet","titleAnchor":"end","titleFontSize":10.5,"titleFontWeight":"bold","titleColor":"#000","titlePadding":-3}}},
   "layer":[
    {"data":{"values":[{}]},"mark":{"type":"rule","color":"#8a8a8a","strokeDash":[1,2]},"encoding":{"x":{"datum":7,"type":"quantitative","scale":{"domain":[0.18,9.67],"nice":false,"zero":false},"axis":{"orient":"bottom","values":[7],"labelExpr":"'Nov'","grid":false,"domain":false,"tickSize":9,"tickColor":"#000","labelAlign":"left","labelBaseline":"top","labelPadding":-6,"labelDx":1,"labelColor":"#000","labelFontSize":11,"title":".NDX   Sheet","titleAnchor":"end","titleFontSize":10.5,"titleFontWeight":"bold","titleColor":"#000","titlePadding":-3}}}},
    {"data":{"values":[{}]},"mark":{"type":"rule","color":"#1a1aa0","strokeWidth":1.3},"encoding":{"x":{"datum":1,"type":"quantitative","scale":{"domain":[0.18,9.67],"nice":false,"zero":false},"axis":{"orient":"bottom","values":[7],"labelExpr":"'Nov'","grid":false,"domain":false,"tickSize":9,"tickColor":"#000","labelAlign":"left","labelBaseline":"top","labelPadding":-6,"labelDx":1,"labelColor":"#000","labelFontSize":11,"title":".NDX   Sheet","titleAnchor":"end","titleFontSize":10.5,"titleFontWeight":"bold","titleColor":"#000","titlePadding":-3}},"x2":{"datum":8},"y":{"datum":100,"type":"quantitative","scale":{"domain":[99.61,104.85],"nice":false,"zero":false},"axis":{"orient":"right","grid":true,"labelOverlap":false,"values":[100,101,102,103,104],"format":".2f"},"title":null}}},
    {"mark":{"type":"line","color":"#e03030","strokeWidth":1},"encoding":{"y":{"field":"m3","type":"quantitative","scale":{"domain":[99.61,104.85],"nice":false,"zero":false},"axis":{"orient":"right","grid":true,"labelOverlap":false,"values":[100,101,102,103,104],"format":".2f"},"title":null}}},
    {"transform":[{"filter":"datum.i == 8"}],"mark":{"type":"point","shape":"M-1,-0.3H1V0.3H-1Z","size":1156,"filled":true,"fill":"#ffffb0","stroke":"#555","strokeWidth":1,"opacity":1,"xOffset":20},"encoding":{"x":{"datum":9.67,"type":"quantitative","scale":{"domain":[0.18,9.67],"nice":false,"zero":false},"axis":{"orient":"bottom","values":[7],"labelExpr":"'Nov'","grid":false,"domain":false,"tickSize":9,"tickColor":"#000","labelAlign":"left","labelBaseline":"top","labelPadding":-6,"labelDx":1,"labelColor":"#000","labelFontSize":11,"title":".NDX   Sheet","titleAnchor":"end","titleFontSize":10.5,"titleFontWeight":"bold","titleColor":"#000","titlePadding":-3}},"y":{"field":"m3","type":"quantitative","scale":{"domain":[99.61,104.85],"nice":false,"zero":false},"axis":{"orient":"right","grid":true,"labelOverlap":false,"values":[100,101,102,103,104],"format":".2f"},"title":null}}},
    {"transform":[{"filter":"datum.i == 8"}],"mark":{"type":"text","fontSize":10.5,"color":"#000","xOffset":20},"encoding":{"x":{"datum":9.67,"type":"quantitative","scale":{"domain":[0.18,9.67],"nice":false,"zero":false},"axis":{"orient":"bottom","values":[7],"labelExpr":"'Nov'","grid":false,"domain":false,"tickSize":9,"tickColor":"#000","labelAlign":"left","labelBaseline":"top","labelPadding":-6,"labelDx":1,"labelColor":"#000","labelFontSize":11,"title":".NDX   Sheet","titleAnchor":"end","titleFontSize":10.5,"titleFontWeight":"bold","titleColor":"#000","titlePadding":-3}},"y":{"field":"m3","type":"quantitative","scale":{"domain":[99.61,104.85],"nice":false,"zero":false},"axis":{"orient":"right","grid":true,"labelOverlap":false,"values":[100,101,102,103,104],"format":".2f"},"title":null},"text":{"field":"m3","type":"quantitative","format":".2f"}}}
   ]}
 ],"bounds":"flush","spacing":11},
{"vconcat":[
  {"width":117,"height":178,
   "title":{"text":"FTSE 100 INDEX","subtitle":".FTSE - FTSE 100 INDEX - End","color":"#a8a8a8","fontSize":12,"subtitleColor":"#111111","subtitleFontSize":9,"subtitleFont":"Liberation Sans","subtitlePadding":0,"dx":6,"dy":6,"offset":0},
   "data":{"name":"ftse"},
   "encoding":{"x":{"field":"i","type":"quantitative","scale":{"domain":[0.26,9.82],"nice":false,"zero":false},"axis":null}},
   "layer":[
    {"data":{"values":[{}]},"mark":{"type":"rule","color":"#8a8a8a","strokeDash":[1,2]},"encoding":{"x":{"datum":7,"type":"quantitative","scale":{"domain":[0.26,9.82],"nice":false,"zero":false},"axis":null}}},
    {"mark":{"type":"rule","color":"#000"},"encoding":{"y":{"field":"l","type":"quantitative","scale":{"domain":[6440.8,6747.7],"nice":false,"zero":false},"axis":{"orient":"right","grid":true,"labelOverlap":false,"values":[6500,6600,6700],"format":",.2f","labelFontSize":9.5},"title":null},"y2":{"field":"h"}}},
    {"mark":{"type":"bar","orient":"vertical","width":10,"stroke":"#000","strokeWidth":1},"encoding":{"y":{"field":"o","type":"quantitative","scale":{"domain":[6440.8,6747.7],"nice":false,"zero":false},"axis":{"orient":"right","grid":true,"labelOverlap":false,"values":[6500,6600,6700],"format":",.2f","labelFontSize":9.5},"title":null},"y2":{"field":"c"},"fill":{"condition":{"test":"datum.c < datum.o","value":"#000"},"value":"#fff"}}},
    {"mark":{"type":"line","color":"#e02020","strokeWidth":1.6,"clip":true},"encoding":{"y":{"field":"up","type":"quantitative","scale":{"domain":[6440.8,6747.7],"nice":false,"zero":false},"axis":{"orient":"right","grid":true,"labelOverlap":false,"values":[6500,6600,6700],"format":",.2f","labelFontSize":9.5},"title":null}}},
    {"mark":{"type":"line","color":"#0a8a0a","strokeWidth":1.6,"clip":true},"encoding":{"y":{"field":"mid","type":"quantitative","scale":{"domain":[6440.8,6747.7],"nice":false,"zero":false},"axis":{"orient":"right","grid":true,"labelOverlap":false,"values":[6500,6600,6700],"format":",.2f","labelFontSize":9.5},"title":null}}},
    {"mark":{"type":"line","color":"#e02020","strokeWidth":1.6,"clip":true},"encoding":{"y":{"field":"lo","type":"quantitative","scale":{"domain":[6440.8,6747.7],"nice":false,"zero":false},"axis":{"orient":"right","grid":true,"labelOverlap":false,"values":[6500,6600,6700],"format":",.2f","labelFontSize":9.5},"title":null}}},
    {"mark":{"type":"point","shape":"square","size":16,"filled":true,"stroke":"#000","strokeWidth":1,"opacity":1},"encoding":{"y":{"field":"mk","type":"quantitative","scale":{"domain":[6440.8,6747.7],"nice":false,"zero":false},"axis":{"orient":"right","grid":true,"labelOverlap":false,"values":[6500,6600,6700],"format":",.2f","labelFontSize":9.5},"title":null},"fill":{"condition":{"test":"datum.c < datum.o || datum.mk < min(datum.o, datum.c) || datum.mk > max(datum.o, datum.c)","value":"#fff"},"value":"#000"}}},
    {"data":{"values":[{"t":"No Orders"}]},"mark":{"type":"point","shape":"M-1,-0.27H1V0.27H-1Z","size":1444,"filled":true,"fill":"#dbe9f7","stroke":"#5a7898","strokeWidth":1,"opacity":1,"xOffset":26,"yOffset":-10},"encoding":{"x":{"datum":0.26,"type":"quantitative","scale":{"domain":[0.26,9.82],"nice":false,"zero":false},"axis":null},"y":{"datum":6440.8,"type":"quantitative","scale":{"domain":[6440.8,6747.7],"nice":false,"zero":false},"axis":{"orient":"right","grid":true,"labelOverlap":false,"values":[6500,6600,6700],"format":",.2f","labelFontSize":9.5},"title":null}}},
    {"data":{"values":[{"t":"No Orders"}]},"mark":{"type":"text","fontSize":10,"color":"#10104a","xOffset":26,"yOffset":-10},"encoding":{"x":{"datum":0.26,"type":"quantitative","scale":{"domain":[0.26,9.82],"nice":false,"zero":false},"axis":null},"y":{"datum":6440.8,"type":"quantitative","scale":{"domain":[6440.8,6747.7],"nice":false,"zero":false},"axis":{"orient":"right","grid":true,"labelOverlap":false,"values":[6500,6600,6700],"format":",.2f","labelFontSize":9.5},"title":null},"text":{"field":"t"}}},
    {"transform":[{"filter":"datum.i == 8"}],"mark":{"type":"point","shape":"M-1,-0.3H1V0.3H-1Z","size":1225,"filled":true,"fill":"#ffffb0","stroke":"#555","strokeWidth":1,"opacity":1,"xOffset":20},"encoding":{"x":{"datum":9.82,"type":"quantitative","scale":{"domain":[0.26,9.82],"nice":false,"zero":false},"axis":null},"y":{"field":"c","type":"quantitative","scale":{"domain":[6440.8,6747.7],"nice":false,"zero":false},"axis":{"orient":"right","grid":true,"labelOverlap":false,"values":[6500,6600,6700],"format":",.2f","labelFontSize":9.5},"title":null}}},
    {"transform":[{"filter":"datum.i == 8"}],"mark":{"type":"text","fontSize":10.5,"color":"#000","xOffset":20},"encoding":{"x":{"datum":9.82,"type":"quantitative","scale":{"domain":[0.26,9.82],"nice":false,"zero":false},"axis":null},"y":{"field":"c","type":"quantitative","scale":{"domain":[6440.8,6747.7],"nice":false,"zero":false},"axis":{"orient":"right","grid":true,"labelOverlap":false,"values":[6500,6600,6700],"format":",.2f","labelFontSize":9.5},"title":null},"text":{"field":"c","type":"quantitative","format":",.1f"}}}
   ]},
  {"width":117,"height":96,
   "title":{"text":"Momentum_.FTSE  Momentum:","dx":4},
   "data":{"name":"ftse"},
   "encoding":{"x":{"field":"i","type":"quantitative","scale":{"domain":[0.26,9.82],"nice":false,"zero":false},"axis":null}},
   "layer":[
    {"data":{"values":[{}]},"mark":{"type":"rule","color":"#8a8a8a","strokeDash":[1,2]},"encoding":{"x":{"datum":7,"type":"quantitative","scale":{"domain":[0.26,9.82],"nice":false,"zero":false},"axis":null}}},
    {"data":{"values":[{}]},"mark":{"type":"rule","color":"#7070f0","strokeWidth":1.3},"encoding":{"x":{"datum":1,"type":"quantitative","scale":{"domain":[0.26,9.82],"nice":false,"zero":false},"axis":null},"x2":{"datum":8},"y":{"datum":100,"type":"quantitative","scale":{"domain":[97.69,101.69],"nice":false,"zero":false},"axis":{"orient":"right","grid":true,"labelOverlap":false,"values":[98,99,100,101],"format":".2f"},"title":null}}},
    {"mark":{"type":"line","color":"#e03030","strokeWidth":1},"encoding":{"y":{"field":"m1","type":"quantitative","scale":{"domain":[97.69,101.69],"nice":false,"zero":false},"axis":{"orient":"right","grid":true,"labelOverlap":false,"values":[98,99,100,101],"format":".2f"},"title":null}}},
    {"transform":[{"filter":"datum.i == 8"}],"mark":{"type":"point","shape":"M-1,-0.3H1V0.3H-1Z","size":1156,"filled":true,"fill":"#ffffb0","stroke":"#555","strokeWidth":1,"opacity":1,"xOffset":20},"encoding":{"x":{"datum":9.82,"type":"quantitative","scale":{"domain":[0.26,9.82],"nice":false,"zero":false},"axis":null},"y":{"field":"m1","type":"quantitative","scale":{"domain":[97.69,101.69],"nice":false,"zero":false},"axis":{"orient":"right","grid":true,"labelOverlap":false,"values":[98,99,100,101],"format":".2f"},"title":null}}},
    {"transform":[{"filter":"datum.i == 8"}],"mark":{"type":"text","fontSize":10.5,"color":"#000","xOffset":20},"encoding":{"x":{"datum":9.82,"type":"quantitative","scale":{"domain":[0.26,9.82],"nice":false,"zero":false},"axis":null},"y":{"field":"m1","type":"quantitative","scale":{"domain":[97.69,101.69],"nice":false,"zero":false},"axis":{"orient":"right","grid":true,"labelOverlap":false,"values":[98,99,100,101],"format":".2f"},"title":null},"text":{"field":"m1","type":"quantitative","format":".2f"}}}
   ]},
  {"width":117,"height":81,
   "title":{"text":"Momentum_.FTSE  Momentum:","dx":4},
   "data":{"name":"ftse"},
   "encoding":{"x":{"field":"i","type":"quantitative","scale":{"domain":[0.26,9.82],"nice":false,"zero":false},"axis":null}},
   "layer":[
    {"data":{"values":[{}]},"mark":{"type":"rule","color":"#8a8a8a","strokeDash":[1,2]},"encoding":{"x":{"datum":7,"type":"quantitative","scale":{"domain":[0.26,9.82],"nice":false,"zero":false},"axis":null}}},
    {"data":{"values":[{}]},"mark":{"type":"rule","color":"#3030c0","strokeWidth":1.3},"encoding":{"x":{"datum":1,"type":"quantitative","scale":{"domain":[0.26,9.82],"nice":false,"zero":false},"axis":null},"x2":{"datum":8},"y":{"datum":100,"type":"quantitative","scale":{"domain":[97.41,101.18],"nice":false,"zero":false},"axis":{"orient":"right","grid":true,"labelOverlap":false,"values":[98,99,100,101],"format":".2f"},"title":null}}},
    {"mark":{"type":"line","color":"#e03030","strokeWidth":1},"encoding":{"y":{"field":"m2","type":"quantitative","scale":{"domain":[97.41,101.18],"nice":false,"zero":false},"axis":{"orient":"right","grid":true,"labelOverlap":false,"values":[98,99,100,101],"format":".2f"},"title":null}}},
    {"transform":[{"filter":"datum.i == 8"}],"mark":{"type":"point","shape":"M-1,-0.3H1V0.3H-1Z","size":1156,"filled":true,"fill":"#ffffb0","stroke":"#555","strokeWidth":1,"opacity":1,"xOffset":20},"encoding":{"x":{"datum":9.82,"type":"quantitative","scale":{"domain":[0.26,9.82],"nice":false,"zero":false},"axis":null},"y":{"field":"m2","type":"quantitative","scale":{"domain":[97.41,101.18],"nice":false,"zero":false},"axis":{"orient":"right","grid":true,"labelOverlap":false,"values":[98,99,100,101],"format":".2f"},"title":null}}},
    {"transform":[{"filter":"datum.i == 8"}],"mark":{"type":"text","fontSize":10.5,"color":"#000","xOffset":20},"encoding":{"x":{"datum":9.82,"type":"quantitative","scale":{"domain":[0.26,9.82],"nice":false,"zero":false},"axis":null},"y":{"field":"m2","type":"quantitative","scale":{"domain":[97.41,101.18],"nice":false,"zero":false},"axis":{"orient":"right","grid":true,"labelOverlap":false,"values":[98,99,100,101],"format":".2f"},"title":null},"text":{"field":"m2","type":"quantitative","format":".2f"}}}
   ]},
  {"width":117,"height":96,
   "title":{"text":"Momentum_.FTSE  Momentum:","dx":4},
   "data":{"name":"ftse"},
   "encoding":{"x":{"field":"i","type":"quantitative","scale":{"domain":[0.26,9.82],"nice":false,"zero":false},"axis":{"orient":"bottom","values":[7],"labelExpr":"'Nov'","grid":false,"domain":false,"tickSize":9,"tickColor":"#000","labelAlign":"left","labelBaseline":"top","labelPadding":-6,"labelDx":1,"labelColor":"#000","labelFontSize":11,"title":".FTSE   Shee","titleAnchor":"end","titleFontSize":10.5,"titleFontWeight":"bold","titleColor":"#000","titlePadding":-3}}},
   "layer":[
    {"data":{"values":[{}]},"mark":{"type":"rule","color":"#8a8a8a","strokeDash":[1,2]},"encoding":{"x":{"datum":7,"type":"quantitative","scale":{"domain":[0.26,9.82],"nice":false,"zero":false},"axis":{"orient":"bottom","values":[7],"labelExpr":"'Nov'","grid":false,"domain":false,"tickSize":9,"tickColor":"#000","labelAlign":"left","labelBaseline":"top","labelPadding":-6,"labelDx":1,"labelColor":"#000","labelFontSize":11,"title":".FTSE   Shee","titleAnchor":"end","titleFontSize":10.5,"titleFontWeight":"bold","titleColor":"#000","titlePadding":-3}}}},
    {"data":{"values":[{}]},"mark":{"type":"rule","color":"#2020a0","strokeWidth":1.3},"encoding":{"x":{"datum":1,"type":"quantitative","scale":{"domain":[0.26,9.82],"nice":false,"zero":false},"axis":{"orient":"bottom","values":[7],"labelExpr":"'Nov'","grid":false,"domain":false,"tickSize":9,"tickColor":"#000","labelAlign":"left","labelBaseline":"top","labelPadding":-6,"labelDx":1,"labelColor":"#000","labelFontSize":11,"title":".FTSE   Shee","titleAnchor":"end","titleFontSize":10.5,"titleFontWeight":"bold","titleColor":"#000","titlePadding":-3}},"x2":{"datum":8},"y":{"datum":100,"type":"quantitative","scale":{"domain":[97.37,102.17],"nice":false,"zero":false},"axis":{"orient":"right","grid":true,"labelOverlap":false,"values":[98,99,100,101],"format":".2f"},"title":null}}},
    {"mark":{"type":"line","color":"#e03030","strokeWidth":1},"encoding":{"y":{"field":"m3","type":"quantitative","scale":{"domain":[97.37,102.17],"nice":false,"zero":false},"axis":{"orient":"right","grid":true,"labelOverlap":false,"values":[98,99,100,101],"format":".2f"},"title":null}}},
    {"transform":[{"filter":"datum.i == 8"}],"mark":{"type":"point","shape":"M-1,-0.3H1V0.3H-1Z","size":1156,"filled":true,"fill":"#ffffb0","stroke":"#555","strokeWidth":1,"opacity":1,"xOffset":20},"encoding":{"x":{"datum":9.82,"type":"quantitative","scale":{"domain":[0.26,9.82],"nice":false,"zero":false},"axis":{"orient":"bottom","values":[7],"labelExpr":"'Nov'","grid":false,"domain":false,"tickSize":9,"tickColor":"#000","labelAlign":"left","labelBaseline":"top","labelPadding":-6,"labelDx":1,"labelColor":"#000","labelFontSize":11,"title":".FTSE   Shee","titleAnchor":"end","titleFontSize":10.5,"titleFontWeight":"bold","titleColor":"#000","titlePadding":-3}},"y":{"field":"m3","type":"quantitative","scale":{"domain":[97.37,102.17],"nice":false,"zero":false},"axis":{"orient":"right","grid":true,"labelOverlap":false,"values":[98,99,100,101],"format":".2f"},"title":null}}},
    {"transform":[{"filter":"datum.i == 8"}],"mark":{"type":"text","fontSize":10.5,"color":"#000","xOffset":20},"encoding":{"x":{"datum":9.82,"type":"quantitative","scale":{"domain":[0.26,9.82],"nice":false,"zero":false},"axis":{"orient":"bottom","values":[7],"labelExpr":"'Nov'","grid":false,"domain":false,"tickSize":9,"tickColor":"#000","labelAlign":"left","labelBaseline":"top","labelPadding":-6,"labelDx":1,"labelColor":"#000","labelFontSize":11,"title":".FTSE   Shee","titleAnchor":"end","titleFontSize":10.5,"titleFontWeight":"bold","titleColor":"#000","titlePadding":-3}},"y":{"field":"m3","type":"quantitative","scale":{"domain":[97.37,102.17],"nice":false,"zero":false},"axis":{"orient":"right","grid":true,"labelOverlap":false,"values":[98,99,100,101],"format":".2f"},"title":null},"text":{"field":"m3","type":"quantitative","format":".2f"}}}
   ]}
 ],"bounds":"flush","spacing":11}
],
"config":{
 "view":{"stroke":"#000","strokeWidth":1},
 "font":"Liberation Sans",
 "axis":{"labelFont":"Liberation Sans","titleFont":"Liberation Sans","labelColor":"#202070","labelFontSize":11,"labelOverlap":false,"tickColor":"#000","tickSize":3,"domainColor":"#000","gridColor":"#8a8a8a","gridDash":[1,2],"gridOpacity":1,"gridWidth":1,"labelPadding":2},
 "title":{"anchor":"start","fontSize":9,"font":"Liberation Sans","fontWeight":"normal","color":"#d83a3a","offset":2}
}
}
